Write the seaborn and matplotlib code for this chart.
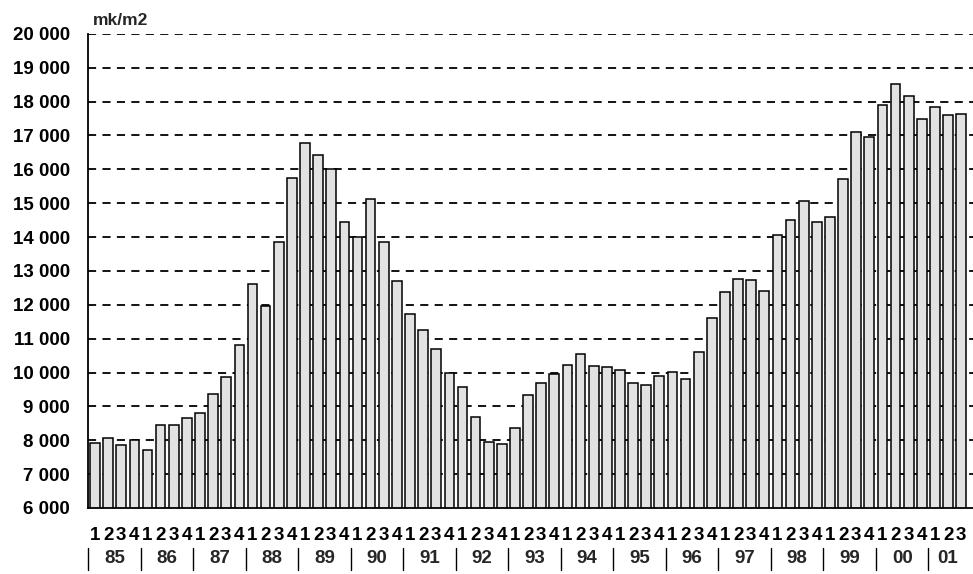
import matplotlib
matplotlib.use('Agg')
import matplotlib.pyplot as plt
import matplotlib.ticker as mticker
import seaborn as sns
import pandas as pd

# quarterly values, 1985 Q1 .. 2001 Q3 (mk/m2)
years = ['85', '86', '87', '88', '89', '90', '91', '92',
         '93', '94', '95', '96', '97', '98', '99', '00', '01']
quarters_per_year = [4] * 16 + [3]
values = [
    7920, 8070, 7870, 8020,      # 85
    7720, 8460, 8460, 8660,      # 86
    8810, 9380, 9870, 10820,     # 87
    12620, 11950, 13850, 15750,  # 88
    16780, 16420, 16000, 14450,  # 89
    14010, 15120, 13850, 12700,  # 90
    11720, 11250, 10700, 10000,  # 91
    9580, 8690, 7950, 7900,      # 92
    8370, 9340, 9680, 9960,      # 93
    10210, 10560, 10180, 10170,  # 94
    10060, 9680, 9630, 9900,     # 95
    10020, 9810, 10620, 11610,   # 96
    12370, 12770, 12730, 12410,  # 97
    14070, 14500, 15070, 14450,  # 98
    14600, 15710, 17090, 16960,  # 99
    17910, 18520, 18170, 17480,  # 00
    17830, 17600, 17630,         # 01
]

periods = []
quarter_labels = []
for yr, n in zip(years, quarters_per_year):
    for q in range(1, n + 1):
        periods.append(f'{yr}Q{q}')
        quarter_labels.append(str(q))

df = pd.DataFrame({'period': periods, 'value': values})

sns.set_style('white')
plt.rcParams['font.family'] = ['Liberation Sans', 'DejaVu Sans']

fig = plt.figure(figsize=(9.73, 5.74), dpi=100)
ax = fig.add_axes([0.0905, 0.115, 0.9095, 0.826])

# dashed horizontal grid
for v in range(7000, 20001, 1000):
    ax.axhline(v, color='black', lw=1.3, ls=(0, (4.5, 3.5)), zorder=0)

sns.barplot(data=df, x='period', y='value', order=periods, color='#e2e2e2',
            saturation=1, edgecolor='black', linewidth=1.1, width=0.74,
            errorbar=None, ax=ax, zorder=2)

ax.set_ylim(6000, 20000)
ax.set_xlim(-0.53, len(periods) - 0.1)
ax.set_yticks(range(6000, 20001, 1000))
ax.yaxis.set_major_formatter(mticker.FuncFormatter(lambda v, p: f'{int(v):,}'.replace(',', ' ')))
ax.set_xticks(range(len(periods)))
ax.set_xticklabels(quarter_labels)
ax.tick_params(axis='y', length=3, width=1, direction='out', pad=10,
               labelsize=13.5, colors='black')
ax.tick_params(axis='x', length=0, pad=14, labelsize=13.5, colors='black')
for lab in ax.get_yticklabels() + ax.get_xticklabels():
    lab.set_fontweight('bold')
ax.set_xlabel('')
ax.set_ylabel('')

for side in ['top', 'right']:
    ax.spines[side].set_visible(False)
for side in ['left', 'bottom']:
    ax.spines[side].set_color('black')
    ax.spines[side].set_linewidth(1.3)

# year row with separators
trans = ax.get_xaxis_transform()
start = 0
for yr, n in zip(years, quarters_per_year):
    ax.text(start + (n - 1) / 2, -0.106, yr, transform=trans, ha='center',
            va='center', fontsize=13.5, fontweight='bold')
    ax.plot([start - 0.5, start - 0.5], [-0.084, -0.13], transform=trans,
            color='black', lw=1, clip_on=False)
    start += n

ax.text(0.005, 1.012, 'mk/m2', transform=ax.transAxes, ha='left', va='bottom',
        fontsize=12.5, fontweight='bold')

fig.savefig('out.png', dpi=100)
